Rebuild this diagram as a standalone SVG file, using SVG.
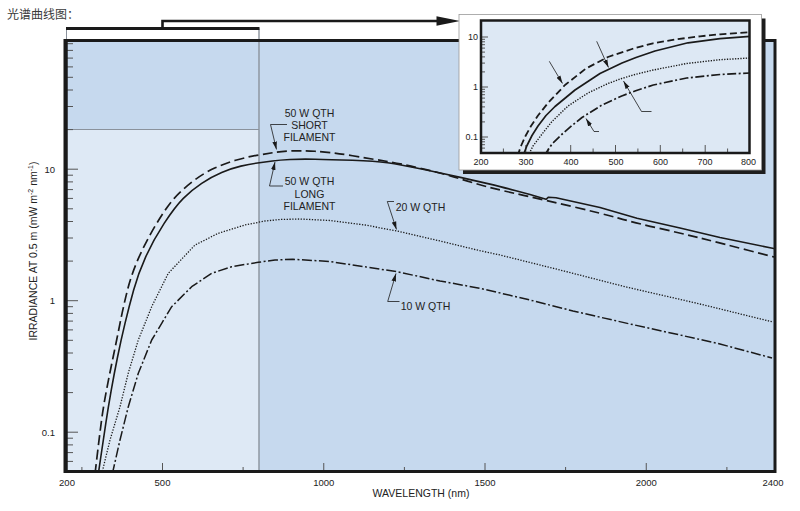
<svg xmlns="http://www.w3.org/2000/svg" width="800" height="511" viewBox="0 0 800 511">
<defs>
<style>
.t{font-family:"Liberation Sans",Arial,sans-serif;fill:#222}
.tk{stroke:#555;stroke-width:1;fill:none}
.c{fill:none;stroke:#1a1a1a;stroke-linejoin:round}
.dash{stroke-width:1.7;stroke-dasharray:10 4.5}
.solid{stroke-width:1.6}
.dot{stroke-width:1.3;stroke-dasharray:1.3 1.5}
.dd{stroke-width:1.5;stroke-dasharray:10 2.5 2 2.5}
.idash{stroke-width:1.8;stroke-dasharray:7 3.5}
.isolid{stroke-width:1.7}
.idot{stroke-width:1.4;stroke-dasharray:1.3 1.4}
.idd{stroke-width:1.7;stroke-dasharray:9 2.5 2 2.5}
.ldr{fill:none;stroke:#1a1a1a;stroke-width:0.8;marker-end:url(#ah)}
</style>
<marker id="ah" viewBox="-8 -2.5 8 5" refX="0" refY="0" markerWidth="8" markerHeight="5" markerUnits="userSpaceOnUse" orient="auto"><path d="M0,0 L-8,-2.3 L-8,2.3 Z" fill="#1a1a1a"/></marker>
<clipPath id="mainclip"><rect x="66" y="40.5" width="709" height="430"/></clipPath>
<clipPath id="insclip"><rect x="481" y="20.5" width="268.5" height="131.5"/></clipPath>
</defs>

<text x="7" y="18.5" style="font-family:'Noto Sans CJK SC',sans-serif;fill:#3a3a3a" font-size="12">光谱曲线图：</text>

<g id="main-plot">
<rect x="66" y="40.5" width="709" height="431" fill="#c6d9ee"/>
<rect x="66" y="129.5" width="193" height="342" fill="#dee9f5"/>
<path d="M66,129.5 H259" stroke="#8a929c" stroke-width="1.2" fill="none"/>
<path d="M259,28.5 V471" stroke="#8a929c" stroke-width="1.4" fill="none"/>
<path d="M66.5,28.5 V40" stroke="#8a929c" stroke-width="1" fill="none"/>
<path class="tk" d="M66,461.4h7M66,452.6h7M66,444.9h7M66,438.2h7M66,392.6h7M66,369.5h7M66,353h7M66,340.3h7M66,329.9h7M66,321.1h7M66,313.4h7M66,306.7h7M66,261.1h7M66,238h7M66,221.5h7M66,208.8h7M66,198.4h7M66,189.6h7M66,181.9h7M66,175.2h7M66,129.6h7M66,106.5h7M66,90h7M66,77.3h7M66,66.9h7M66,58.1h7M66,50.4h7M66,43.7h7M66,432.2h12M66,300.7h12M66,169.2h12"/>
<path class="tk" d="M162.5,471v-8M323.75,471v-8M485,471v-8M646.25,471v-8M81.9,471v-4M243.1,471v-4M404.4,471v-4M565.6,471v-4M726.9,471v-4"/>
<g id="curves" clip-path="url(#mainclip)">
<path id="c50short" class="c dash" d="M95,474 L97,457 Q99,440 101.15,423.35 Q103.3,406.7 106.55,389.85 Q109.8,373 113.25,356.5 Q116.7,340 120,323.35 Q123.3,306.7 127.5,290 Q131.7,273.3 139.2,256.65 Q146.7,240 156.7,223.35 Q166.7,206.7 174.2,198.35 Q181.7,190 192.5,181.65 Q203.3,173.3 214.15,168.3 Q225,163.3 236.65,160 Q248.3,156.7 256.65,155.35 Q265,154 272.5,152.75 Q280,151.5 290,151 Q300,150.5 315,151.25 Q330,152 352.5,155.75 Q375,159.5 387.5,161.5 Q400,163.5 421.5,168.5 Q443,173.5 461.5,179.25 Q480,185 490,187.5 Q500,190 523.5,195.35 Q547,200.7 573.5,206.85 Q600,213 618.5,218.15 Q637,223.3 658.5,228.15 Q680,233 700,238 Q720,243 748,250.25 L776,257.5"/>
<path id="c50long" class="c solid" d="M98.3,474 L100.8,457 Q103.3,440 105.8,423.35 Q108.3,406.7 111.3,389.85 Q114.3,373 117.65,356.5 Q121,340 125,323.35 Q129,306.7 133.65,290 Q138.3,273.3 145.8,256.65 Q153.3,240 164.15,223.35 Q175,206.7 183.35,198.35 Q191.7,190 201.7,183.35 Q211.7,176.7 221.7,172.5 Q231.7,168.3 240.85,166.15 Q250,164 257.5,163 Q265,162 272.5,161 Q280,160 290,159.5 Q300,159 315,159.25 Q330,159.5 352.5,160.25 Q375,161 387.5,162.75 Q400,164.5 421.5,169 Q443,173.5 461.5,177.6 Q480,181.7 490,184.1 Q500,186.5 515,190.5 L530,194.5 L546,199.3 L548.5,197.2 L556,197.8 L600,207.5 L637,218.3 L680,228 L720,237.5 L776,249"/>
<polyline id="c20" class="c dot" points="101.7,474 110,440 120,406.7 128.3,373 138.3,340 151.7,306.7 160,290 168.3,273.3 195,245 218.3,233.3 245,225 265,221 280,219.5 300,219 330,220.5 365,225 397,231 440,241 480,250.7 500,255 560,270 625,286.7 700,304 773,322"/>
<polyline id="c10" class="c dd" points="112.3,474 120,440 128.3,406.7 138.3,373.3 151.7,340 161.7,323.3 171.7,306.7 191.7,286.7 211.7,273.3 231.7,266.7 258.3,262.3 275,260 293,259.3 330,261.5 397,271.7 440,281 480,288.3 530,300 573,311 630,324 680,335 720,344 772,358"/>
</g>
<rect x="66" y="40.5" width="709" height="431" fill="none" stroke="#1a1a1a" stroke-width="3"/>
<path d="M65.5,39 V473" stroke="#1a1a1a" stroke-width="4" fill="none"/>
</g>

<g id="main-labels">
<g id="lbl-50short">
<path class="ldr" d="M287,124.5 H270.5 L276.5,149.5"/>
<text class="t" font-size="10.5" text-anchor="middle"><tspan x="309.5" y="116.8">50 W QTH</tspan><tspan x="309.5" y="128.8">SHORT</tspan><tspan x="309.5" y="141">FILAMENT</tspan></text>
</g>
<g id="lbl-50long">
<path class="ldr" d="M283,186 H269.5 L275,162"/>
<text class="t" font-size="10.5" text-anchor="middle"><tspan x="309.5" y="185.4">50 W QTH</tspan><tspan x="309.5" y="197.7">LONG</tspan><tspan x="309.5" y="209.7">FILAMENT</tspan></text>
</g>
<g id="lbl-20">
<path class="ldr" d="M394,201.5 H387.3 L396.5,229.5"/>
<text class="t" font-size="10.5" x="395.7" y="211">20 W QTH</text>
</g>
<g id="lbl-10">
<path class="ldr" d="M399.5,301.5 H387.7 L396,273.5"/>
<text class="t" font-size="10.5" x="400.7" y="310.4">10 W QTH</text>
</g>
<g id="axis-text">
<text class="t" font-size="9.5" text-anchor="end" x="55" y="172.5">10</text>
<text class="t" font-size="9.5" text-anchor="end" x="55" y="304">1</text>
<text class="t" font-size="9.5" text-anchor="end" x="55" y="435.5">0.1</text>
<text class="t" font-size="9.5" text-anchor="middle" y="485.5"><tspan x="67">200</tspan><tspan x="162.5">500</tspan><tspan x="323.75">1000</tspan><tspan x="485">1500</tspan><tspan x="646.25">2000</tspan><tspan x="773">2400</tspan></text>
<text class="t" font-size="10.5" text-anchor="middle" x="421" y="497">WAVELENGTH (nm)</text>
<text class="t" font-size="10.5" text-anchor="middle" transform="translate(37,251) rotate(-90)">IRRADIANCE AT 0.5 m (mW m<tspan font-size="7" dy="-4">-2</tspan><tspan dy="4"> nm</tspan><tspan font-size="7" dy="-4">-1</tspan><tspan dy="4">)</tspan></text>
</g>
</g>

<g id="bracket">
<path d="M66,28.5 H259.5" stroke="#1a1a1a" stroke-width="3" fill="none"/>
<path d="M162.5,28.5 V21 H440" stroke="#1a1a1a" stroke-width="2.6" fill="none"/>
<polygon points="460,21 436.5,16.3 436.5,25.7" fill="#1a1a1a"/>
</g>

<g id="inset">
<rect x="463" y="18.5" width="302.5" height="155.5" fill="#1e1e1e"/>
<rect x="459" y="14.5" width="302.5" height="155.5" fill="#fff" stroke="#9a9a9a" stroke-width="0.8"/>
<rect x="481" y="20.5" width="268.5" height="132.5" fill="#dde8f4"/>
<path class="tk" stroke-width="0.8" d="M481,148.1h4M481,144.7h4M481,141.8h4M481,139.3h4M481,121.9h4M481,113.1h4M481,106.9h4M481,102.1h4M481,98.1h4M481,94.7h4M481,91.8h4M481,89.3h4M481,71.9h4M481,63.1h4M481,56.9h4M481,52.1h4M481,48.1h4M481,44.7h4M481,41.8h4M481,39.3h4M481,137h7M481,87h7M481,37h7"/>
<path class="tk" stroke-width="0.8" d="M525.8,152v-7M570.7,152v-7M615.5,152v-7M660.3,152v-7M705.2,152v-7M503.4,152v-3.5M548.2,152v-3.5M593.1,152v-3.5M637.9,152v-3.5M682.7,152v-3.5M727.6,152v-3.5"/>
<g id="inset-curves" clip-path="url(#insclip)">
<polyline class="c idash" points="517.5,156 521,146 525.5,136 531,126 538,115.5 548,103 565,85 586,68.5 608,57 632,49 653,43.3 675,39.5 700,36.3 720,34.3 750,32.3"/>
<polyline class="c isolid" points="523,156 527,145.5 532,135.5 538,126 546,115.5 555,106.5 575,90 600,73.5 622,63 636,57.5 655,51 688,42.8 720,38.7 750,36.3"/>
<polyline class="c idot" points="528,156 533,146 541.7,134.5 552,121.5 568,106 588,93 608,83.5 621.7,78.5 635,74.5 653.3,70 686.7,63.5 720,59.7 750,58"/>
<polyline class="c idd" points="544,156 552,144 561.7,134.5 572,125.5 582,117.5 602,105 621.7,96 635,91 653.3,85 686.7,78 720,74.5 750,73"/>
</g>
<rect x="481" y="20.5" width="268.5" height="132.5" fill="none" stroke="#1a1a1a" stroke-width="2.5"/>
<path class="ldr" d="M549.3,61.3 L562.5,83.5"/>
<path class="ldr" d="M596.7,41.3 L608.5,67.5"/>
<path class="ldr" d="M651.5,111.5 H641.5 L623.5,81"/>
<path class="ldr" d="M599,131.5 H594 L586,118.5"/>
<text class="t" font-size="9" text-anchor="end" x="478" y="40.3">10</text>
<text class="t" font-size="9" text-anchor="end" x="478" y="90.3">1</text>
<text class="t" font-size="9" text-anchor="end" x="478" y="140.3">0.1</text>
<text class="t" font-size="9" text-anchor="middle" y="165"><tspan x="481">200</tspan><tspan x="526">300</tspan><tspan x="571">400</tspan><tspan x="616">500</tspan><tspan x="660.5">600</tspan><tspan x="705">700</tspan><tspan x="748.5">800</tspan></text>
</g>
</svg>
